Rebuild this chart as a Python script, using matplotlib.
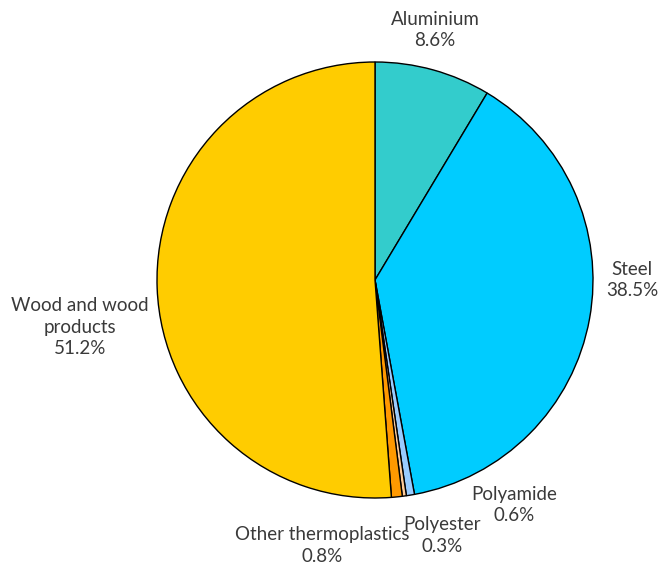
import matplotlib.pyplot as plt

materials = ['Aluminium', 'Steel', 'Polyamide', 'Polyester', 'Other thermoplastics', 'Wood and wood\nproducts']
shares = [8.6, 38.5, 0.6, 0.3, 0.8, 51.2]
colors = ['#33CCCC', '#00CCFF', '#99CCFF', '#FFCC99', '#FF9900', '#FFCC00']

# label anchor points in pie units (radius = 1)
label_pos = [(0.275, 1.147), (1.179, 0.0), (0.638, -1.032),
             (0.307, -1.170), (-0.243, -1.216), (-1.353, -0.216)]

plt.rcParams['font.family'] = ['Lato', 'DejaVu Sans']

fig = plt.figure(figsize=(6.72, 5.66), dpi=100)
ax = fig.add_axes([0, 0, 1, 1])
ax.pie(shares, colors=colors, startangle=90, counterclock=False,
       wedgeprops=dict(edgecolor='black', linewidth=1.0))

for name, val, (x, y) in zip(materials, shares, label_pos):
    ax.text(x, y, f'{name}\n{val}%', ha='center', va='center',
            fontsize=13.5, fontweight='normal', color='#3a3a3a', linespacing=1.35)

ax.set_xlim(-375 / 218, 297 / 218)
ax.set_ylim(-286 / 218, 280 / 218)
ax.set_aspect('equal')
ax.axis('off')
fig.savefig('out.png', dpi=100)
